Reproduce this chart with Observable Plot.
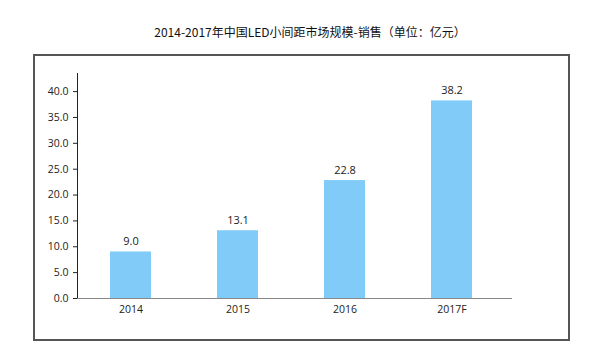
<!DOCTYPE html>
<html>
<head>
<meta charset="utf-8">
<script src="https://cdn.jsdelivr.net/npm/d3@7"></script>
<script src="https://cdn.jsdelivr.net/npm/@observablehq/plot@0.6"></script>
<style>
  html, body { margin: 0; padding: 0; background: #fff; }
  #wrap { position: relative; width: 600px; height: 359px; overflow: hidden; }
  #title { position: absolute; left: 0; top: 23px; width: 620px; text-align: center;
           font-family: "Noto Sans CJK SC", "Noto Sans", sans-serif; font-size: 12px; color: #111; line-height: 18px; }
  #chart { position: absolute; left: 0; top: 54px; }
  #box { position: absolute; left: 33px; top: 54px; width: 533px; height: 283px; border: 2px solid #555; pointer-events: none; }
</style>
</head>
<body>
<div id="wrap">
  <div id="title">2014-2017年中国LED小间距市场规模-销售（单位：亿元）</div>
  <div id="chart"></div>
  <div id="box"></div>
</div>
<script>
const years = ["2014", "2015", "2016", "2017F"];
const sales = [9.0, 13.1, 22.8, 38.2];
const yTicks = [0, 5, 10, 15, 20, 25, 30, 35, 40];

const data = years.map((year, i) => ({year, value: sales[i]}));

const chart = Plot.plot({
  width: 600,
  height: 305,
  marginTop: 19,
  marginBottom: 61,
  marginLeft: 77,
  marginRight: 88,
  style: {fontFamily: "'Open Sans', 'Noto Sans', sans-serif", fontSize: "10.5px", color: "#222", background: "transparent"},
  x: {domain: years, range: [77, 505], paddingInner: 0.62, paddingOuter: 0.31, label: null, tickSize: 0, tickPadding: 7},
  y: {domain: [0, 43.5], label: null, ticks: yTicks, tickSize: 4, tickPadding: 5, tickFormat: d => d.toFixed(1), line: true},
  marks: [
    Plot.barY(data, {x: "year", y: "value", fill: "#80cbf8"}),
    Plot.ruleY([0], {stroke: "#888", strokeWidth: 1.2}),
    Plot.text(data, {x: "year", y: "value", text: d => d.value.toFixed(1), dy: -10, fontSize: 11, fill: "#222"})
  ]
});
document.getElementById("chart").appendChild(chart);
</script>
</body>
</html>
